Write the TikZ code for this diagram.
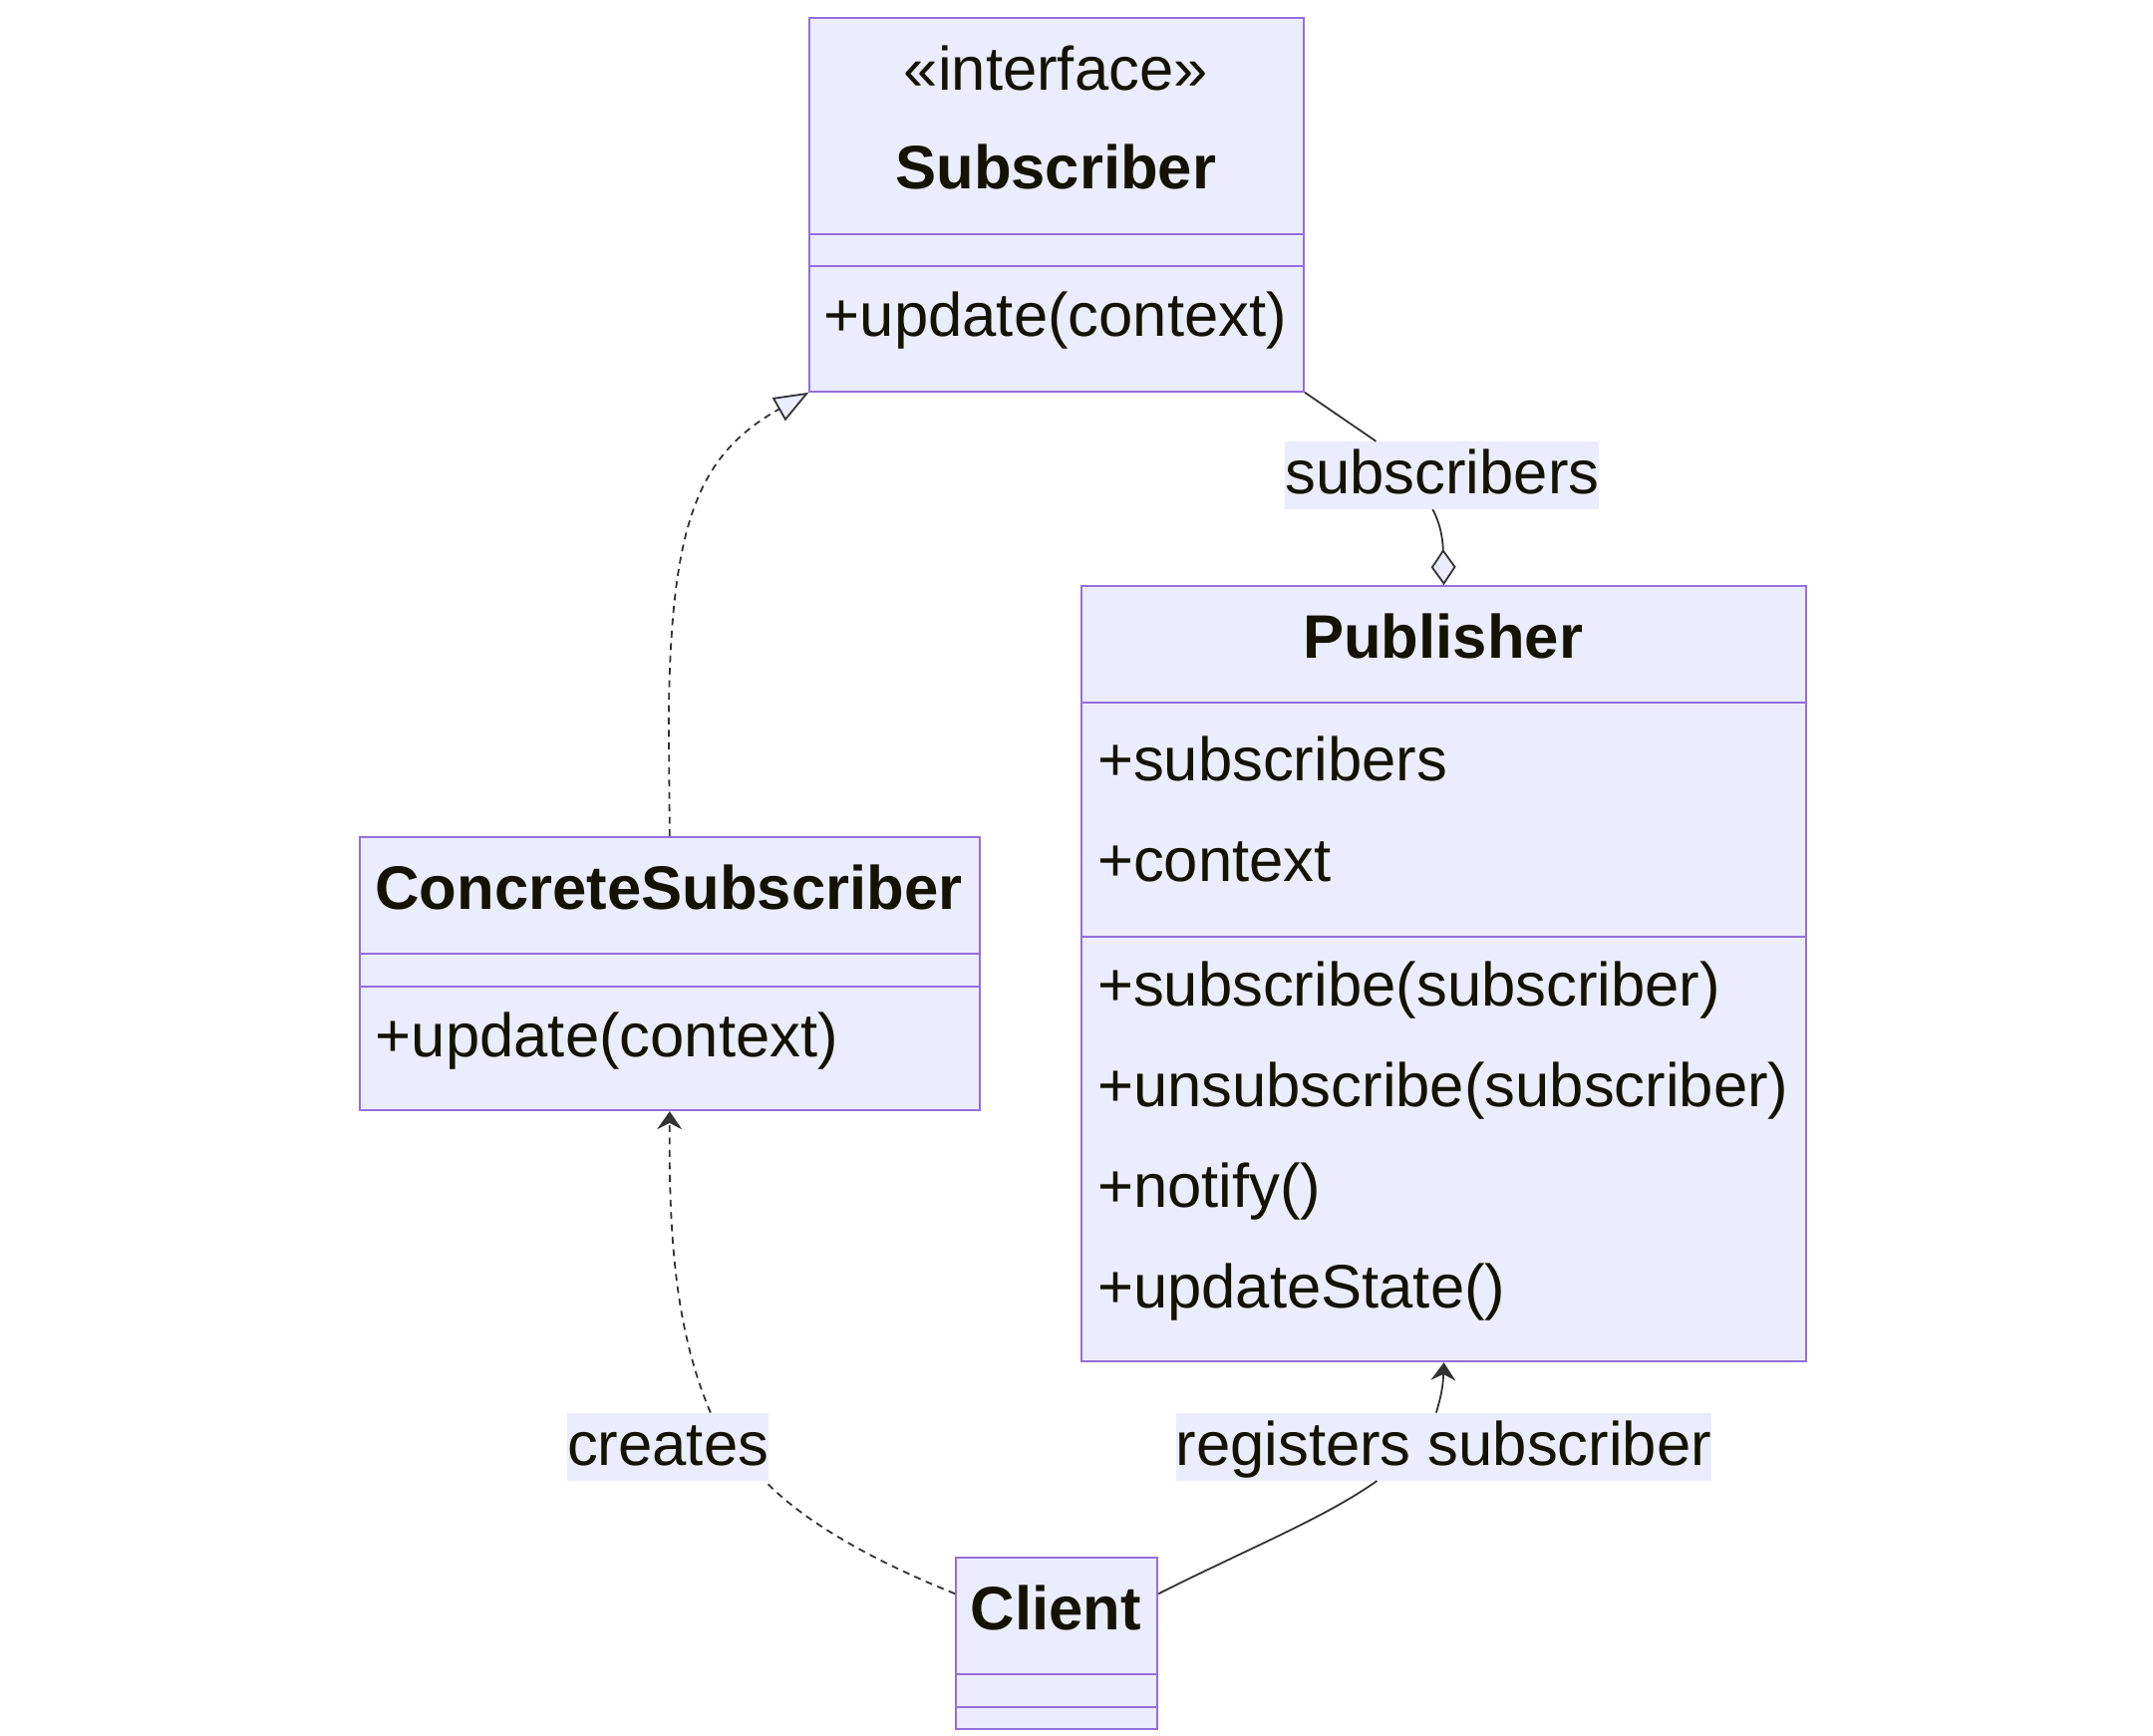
\documentclass[tikz,border=0pt]{standalone}
\usepackage{fontspec}
\setmainfont{Liberation Sans}
\usetikzlibrary{arrows.meta,calc}
\definecolor{boxfill}{HTML}{ECECFF}
\definecolor{boxdraw}{HTML}{9370DB}
\definecolor{txt}{HTML}{131300}
\definecolor{edgecol}{HTML}{333333}
\begin{document}
\begin{tikzpicture}[x=1pt,y=-1pt,
  classbox/.style={draw=boxdraw, fill=boxfill, line width=1.4pt, anchor=north west, inner sep=0pt},
  divider/.style={draw=boxdraw, line width=1.4pt},
  txtnode/.style={text=txt, font=\fontsize{44.5}{53}\selectfont, inner sep=0pt, anchor=base},
  titlenode/.style={txtnode, font=\fontsize{44.5}{53}\selectfont\bfseries},
  membernode/.style={txtnode, anchor=base west},
  lbl/.style={fill=boxfill, text=txt, font=\fontsize{44.5}{53}\selectfont, inner sep=0pt, text height=38pt, text depth=11pt, anchor=base},
  edgeline/.style={draw=edgecol, line width=1.3pt},
  dashedge/.style={edgeline, dash pattern=on 5pt off 4pt},
  dep/.style={-{Stealth[length=13pt,width=18pt,inset=4.5pt]}},
  inh/.style={-{Triangle[length=25pt,width=19pt,fill=boxfill,line width=1.3pt]}},
  agg/.style={-{Diamond[length=26pt,width=18pt,fill=boxfill,line width=1.3pt]}}
]
\useasboundingbox[fill=white] (0,0) rectangle (1560,1258);

% Subscriber
\node[classbox, minimum width=358pt, minimum height=271pt] (sub) at (586,12) {};
\draw[divider] (586,170) -- (944,170);
\draw[divider] (586,193) -- (944,193);
\node[txtnode] (substereo) at (765,65) {«interface»};
\node[titlenode] (subname) at (765,137) {Subscriber};
\node[membernode] (subm1) at (597,244) {+update(context)};

% Publisher
\node[classbox, minimum width=525pt, minimum height=562pt] (pub) at (783,424) {};
\draw[divider] (783,509) -- (1308,509);
\draw[divider] (783,679) -- (1308,679);
\node[titlenode] (pubname) at (1045.5,477) {Publisher};
\node[membernode] (puba1) at (795,566) {+subscribers};
\node[membernode] (puba2) at (795,639) {+context};
\node[membernode] (pubm1) at (795,729) {+subscribe(subscriber)};
\node[membernode] (pubm2) at (795,802) {+unsubscribe(subscriber)};
\node[membernode] (pubm3) at (795,875) {+notify()};
\node[membernode] (pubm4) at (795,948) {+updateState()};

% ConcreteSubscriber
\node[classbox, minimum width=449pt, minimum height=198pt] (cs) at (260,606) {};
\draw[divider] (260,691) -- (709,691);
\draw[divider] (260,715) -- (709,715);
\node[titlenode] (csname) at (484.5,659) {ConcreteSubscriber};
\node[membernode] (csm1) at (272,766) {+update(context)};

% Client
\node[classbox, minimum width=146pt, minimum height=124pt] (cli) at (692,1128) {};
\draw[divider] (692,1213) -- (838,1213);
\draw[divider] (692,1237) -- (838,1237);
\node[titlenode] (cliname) at (765,1181) {Client};

% Edge labels
\node[lbl] (lsubs) at (1045,358) {subscribers};
\node[lbl] (lcre) at (484,1062) {creates};
\node[lbl] (lreg) at (1046,1062) {registers subscriber};

% Inheritance
\draw[dashedge, inh] (cs.north) -- (484.5,520) .. controls (486,380) and (505,330) .. (sub.south west);

% Aggregation
\draw[edgeline] (sub.south east) -- ($(lsubs.north west)+(66,0)$);
\draw[edgeline, agg] ($(lsubs.south west)+(107,0)$) .. controls (1044,380) and (1045.5,392) .. (pub.north);

% creates
\draw[dashedge] ($(cli.north west)+(0,27)$) .. controls (625,1128) and (580,1100) .. ($(lcre.south east)+(-3,0)$);
\draw[dashedge, dep] ($(lcre.north west)+(104,0)$) .. controls (490,965) and (484.5,900) .. (cs.south);

% registers subscriber
\draw[edgeline] ($(cli.north east)+(0,27)$) .. controls (905,1122) and (960,1100) .. ($(lreg.south west)+(146,0)$);
\draw[edgeline, dep] ($(lreg.north west)+(189,0)$) .. controls (1044,1012) and (1045.5,1006) .. (pub.south);
\end{tikzpicture}
\end{document}
